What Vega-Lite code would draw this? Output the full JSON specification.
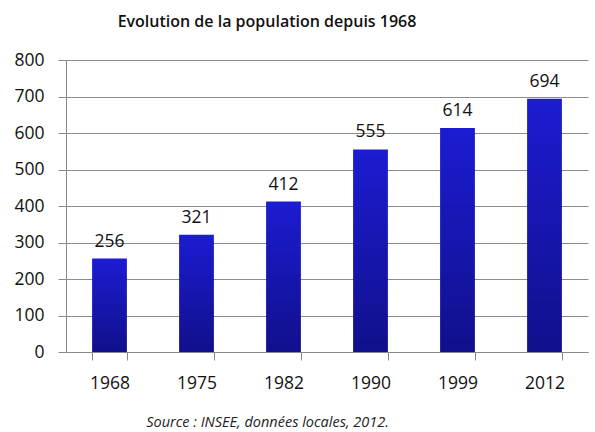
{
  "$schema": "https://vega.github.io/schema/vega-lite/v6.json",
  "autosize": {"type": "none"},
  "padding": {"left": 66, "top": 60, "right": 7, "bottom": 80},
  "width": 522,
  "height": 292,
  "background": "white",
  "title": {
    "text": "Evolution de la population depuis 1968",
    "font": "Open Sans",
    "fontSize": 16,
    "fontWeight": 600,
    "color": "#111",
    "anchor": "middle",
    "dx": -60,
    "offset": 21
  },
  "data": {
    "values": [
      {"annee": "1968", "population": 256},
      {"annee": "1975", "population": 321},
      {"annee": "1982", "population": 412},
      {"annee": "1990", "population": 555},
      {"annee": "1999", "population": 614},
      {"annee": "2012", "population": 694}
    ]
  },
  "encoding": {
    "x": {
      "field": "annee",
      "type": "ordinal",
      "sort": null,
      "scale": {"paddingInner": 0.6, "paddingOuter": 0.3},
      "axis": {
        "title": "Source : INSEE, données locales, 2012.",
        "titleFont": "Open Sans",
        "titleFontStyle": "italic",
        "titleFontWeight": "normal",
        "titleFontSize": 14.5,
        "titleColor": "#222",
        "titleX": 201,
        "titlePadding": 24,
        "labelAngle": 0,
        "labelFont": "Open Sans",
        "labelFontSize": 17.5,
        "labelColor": "#111",
        "labelPadding": 14,
        "tickBand": "extent",
        "tickSize": 8,
        "tickColor": "#888",
        "domainColor": "#888",
        "grid": false
      }
    },
    "y": {
      "field": "population",
      "type": "quantitative",
      "scale": {"domain": [0, 800]},
      "axis": {
        "title": null,
        "values": [0, 100, 200, 300, 400, 500, 600, 700, 800],
        "labelFont": "Open Sans",
        "labelFontSize": 17.5,
        "labelColor": "#111",
        "labelPadding": 14,
        "tickSize": 8,
        "tickColor": "#888",
        "domainColor": "#888",
        "gridColor": "#8c8c8c",
        "grid": true
      }
    }
  },
  "layer": [
    {
      "mark": {
        "type": "bar",
        "color": {
          "gradient": "linear",
          "x1": 0, "y1": 0, "x2": 0, "y2": 1,
          "stops": [
            {"offset": 0, "color": "#1c1cd2"},
            {"offset": 1, "color": "#10108c"}
          ]
        }
      }
    },
    {
      "mark": {
        "type": "text",
        "baseline": "bottom",
        "dy": -8,
        "font": "Open Sans",
        "fontSize": 17.5,
        "color": "#111"
      },
      "encoding": {"text": {"field": "population", "type": "quantitative"}}
    }
  ],
  "config": {"view": {"stroke": null}}
}
